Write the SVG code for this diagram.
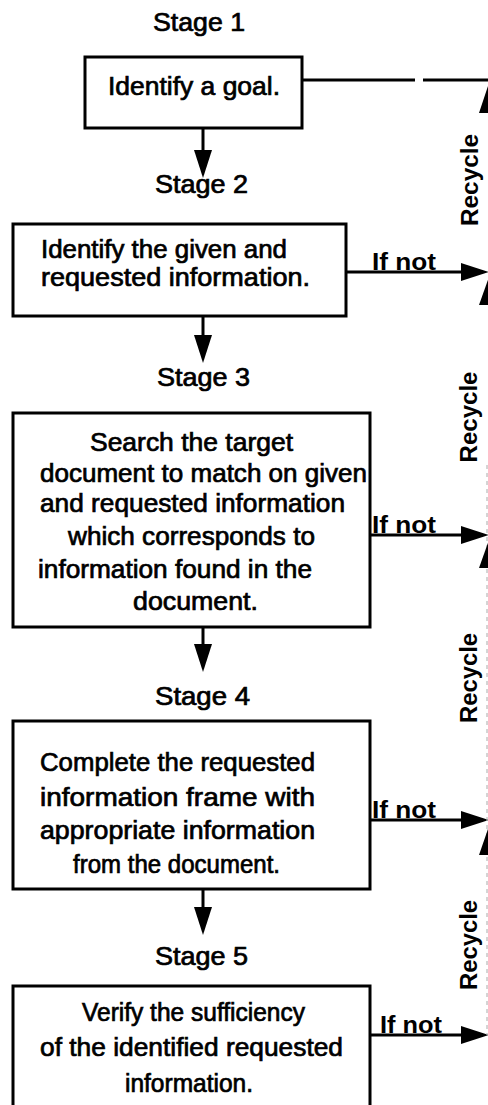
<svg xmlns="http://www.w3.org/2000/svg" width="488" height="1105" viewBox="0 0 488 1105">
<style>
.box{fill:#fff;stroke:#000;stroke-width:3}
.t{font-family:"Liberation Sans",Arial,sans-serif;font-size:25px;fill:#000;stroke:#000;stroke-width:0.7}
.st{font-family:"Liberation Sans",Arial,sans-serif;font-size:25px;fill:#000;stroke:#000;stroke-width:0.7}
.ifn{font-family:"Liberation Sans",Arial,sans-serif;font-size:23px;font-weight:bold;fill:#000}
.rc{font-family:"Liberation Sans",Arial,sans-serif;font-size:23px;font-weight:bold;fill:#000;text-anchor:middle}
.ln{fill:none;stroke:#000;stroke-width:3}
.ah{fill:#000;stroke:none}
</style>
<defs>
<marker id="arr" markerUnits="userSpaceOnUse" markerWidth="32" markerHeight="22" viewBox="0 -11 32 22" refX="22" refY="0" orient="auto">
<path d="M0,-9 L28,0 L0,9 z" fill="#000"/>
</marker>
</defs>

<g id="stage-labels">
<text class="st" x="153" y="31" textLength="92" lengthAdjust="spacingAndGlyphs">Stage 1</text>
<text class="st" x="155" y="193" textLength="93" lengthAdjust="spacingAndGlyphs">Stage 2</text>
<text class="st" x="157" y="386" textLength="93" lengthAdjust="spacingAndGlyphs">Stage 3</text>
<text class="st" x="155" y="705" textLength="95" lengthAdjust="spacingAndGlyphs">Stage 4</text>
<text class="st" x="155" y="965" textLength="93" lengthAdjust="spacingAndGlyphs">Stage 5</text>
</g>

<g id="node1">
<rect class="box" x="85" y="57" width="217" height="71"/>
<text class="t" x="108" y="95" textLength="172" lengthAdjust="spacingAndGlyphs">Identify a goal.</text>
</g>

<g id="node2">
<rect class="box" x="13" y="224" width="333" height="92"/>
<text class="t" x="41" y="258" textLength="246" lengthAdjust="spacingAndGlyphs">Identify the given and</text>
<text class="t" x="41" y="286" textLength="269" lengthAdjust="spacingAndGlyphs">requested information.</text>
</g>

<g id="node3">
<rect class="box" x="13" y="413" width="357" height="214"/>
<text class="t" x="90" y="451" textLength="203" lengthAdjust="spacingAndGlyphs">Search the target</text>
<text class="t" x="40" y="482" textLength="327" lengthAdjust="spacingAndGlyphs">document to match on given</text>
<text class="t" x="40" y="512" textLength="305" lengthAdjust="spacingAndGlyphs">and requested information</text>
<text class="t" x="68" y="545" textLength="247" lengthAdjust="spacingAndGlyphs">which corresponds to</text>
<text class="t" x="38" y="578" textLength="274" lengthAdjust="spacingAndGlyphs">information found in the</text>
<text class="t" x="133" y="610" textLength="125" lengthAdjust="spacingAndGlyphs">document.</text>
</g>

<g id="node4">
<rect class="box" x="13" y="721" width="357" height="168"/>
<text class="t" x="40" y="771" textLength="275" lengthAdjust="spacingAndGlyphs">Complete the requested</text>
<text class="t" x="40" y="806" textLength="275" lengthAdjust="spacingAndGlyphs">information frame with</text>
<text class="t" x="40" y="839" textLength="275" lengthAdjust="spacingAndGlyphs">appropriate information</text>
<text class="t" x="73" y="873" textLength="207" lengthAdjust="spacingAndGlyphs">from the document.</text>
</g>

<g id="node5">
<rect class="box" x="13" y="986" width="357" height="140"/>
<text class="t" x="82" y="1021" textLength="223" lengthAdjust="spacingAndGlyphs">Verify the sufficiency</text>
<text class="t" x="40" y="1056" textLength="303" lengthAdjust="spacingAndGlyphs">of the identified requested</text>
<text class="t" x="125" y="1092" textLength="128" lengthAdjust="spacingAndGlyphs">information.</text>
</g>

<g id="connectors">
<path class="ln" d="M302,80 H415 M423,80 H492"/>
<line class="ln" x1="203" y1="128" x2="203" y2="172" marker-end="url(#arr)"/>
<line class="ln" x1="203" y1="316" x2="203" y2="357" marker-end="url(#arr)"/>
<line class="ln" x1="203" y1="627" x2="203" y2="666" marker-end="url(#arr)"/>
<line class="ln" x1="203" y1="889" x2="203" y2="929" marker-end="url(#arr)"/>
<line class="ln" x1="346" y1="272" x2="483" y2="272" marker-end="url(#arr)"/>
<line class="ln" x1="370" y1="535" x2="483" y2="535" marker-end="url(#arr)"/>
<line class="ln" x1="370" y1="820" x2="483" y2="820" marker-end="url(#arr)"/>
<line class="ln" x1="370" y1="1035" x2="483" y2="1035" marker-end="url(#arr)"/>
<line x1="487" y1="465" x2="487" y2="1035" stroke="#aaa" stroke-width="1" stroke-dasharray="4 4"/>
<polygon class="ah" points="489,83 479,113 499,113"/>
<polygon class="ah" points="489,277 479,305 499,305"/>
<polygon class="ah" points="489,540 479,568 499,568"/>
<polygon class="ah" points="489,826 479,855 499,855"/>
<text class="ifn" x="372" y="270" textLength="64" lengthAdjust="spacingAndGlyphs">If not</text>
<text class="ifn" x="372" y="533" textLength="64" lengthAdjust="spacingAndGlyphs">If not</text>
<text class="ifn" x="372" y="818" textLength="64" lengthAdjust="spacingAndGlyphs">If not</text>
<text class="ifn" x="380" y="1033" textLength="62" lengthAdjust="spacingAndGlyphs">If not</text>
<text class="rc" transform="translate(478,180) rotate(-90)" textLength="92" lengthAdjust="spacingAndGlyphs">Recycle</text>
<text class="rc" transform="translate(477,417) rotate(-90)" textLength="91" lengthAdjust="spacingAndGlyphs">Recycle</text>
<text class="rc" transform="translate(477,678) rotate(-90)" textLength="90" lengthAdjust="spacingAndGlyphs">Recycle</text>
<text class="rc" transform="translate(477,945) rotate(-90)" textLength="90" lengthAdjust="spacingAndGlyphs">Recycle</text>
</g>
</svg>
